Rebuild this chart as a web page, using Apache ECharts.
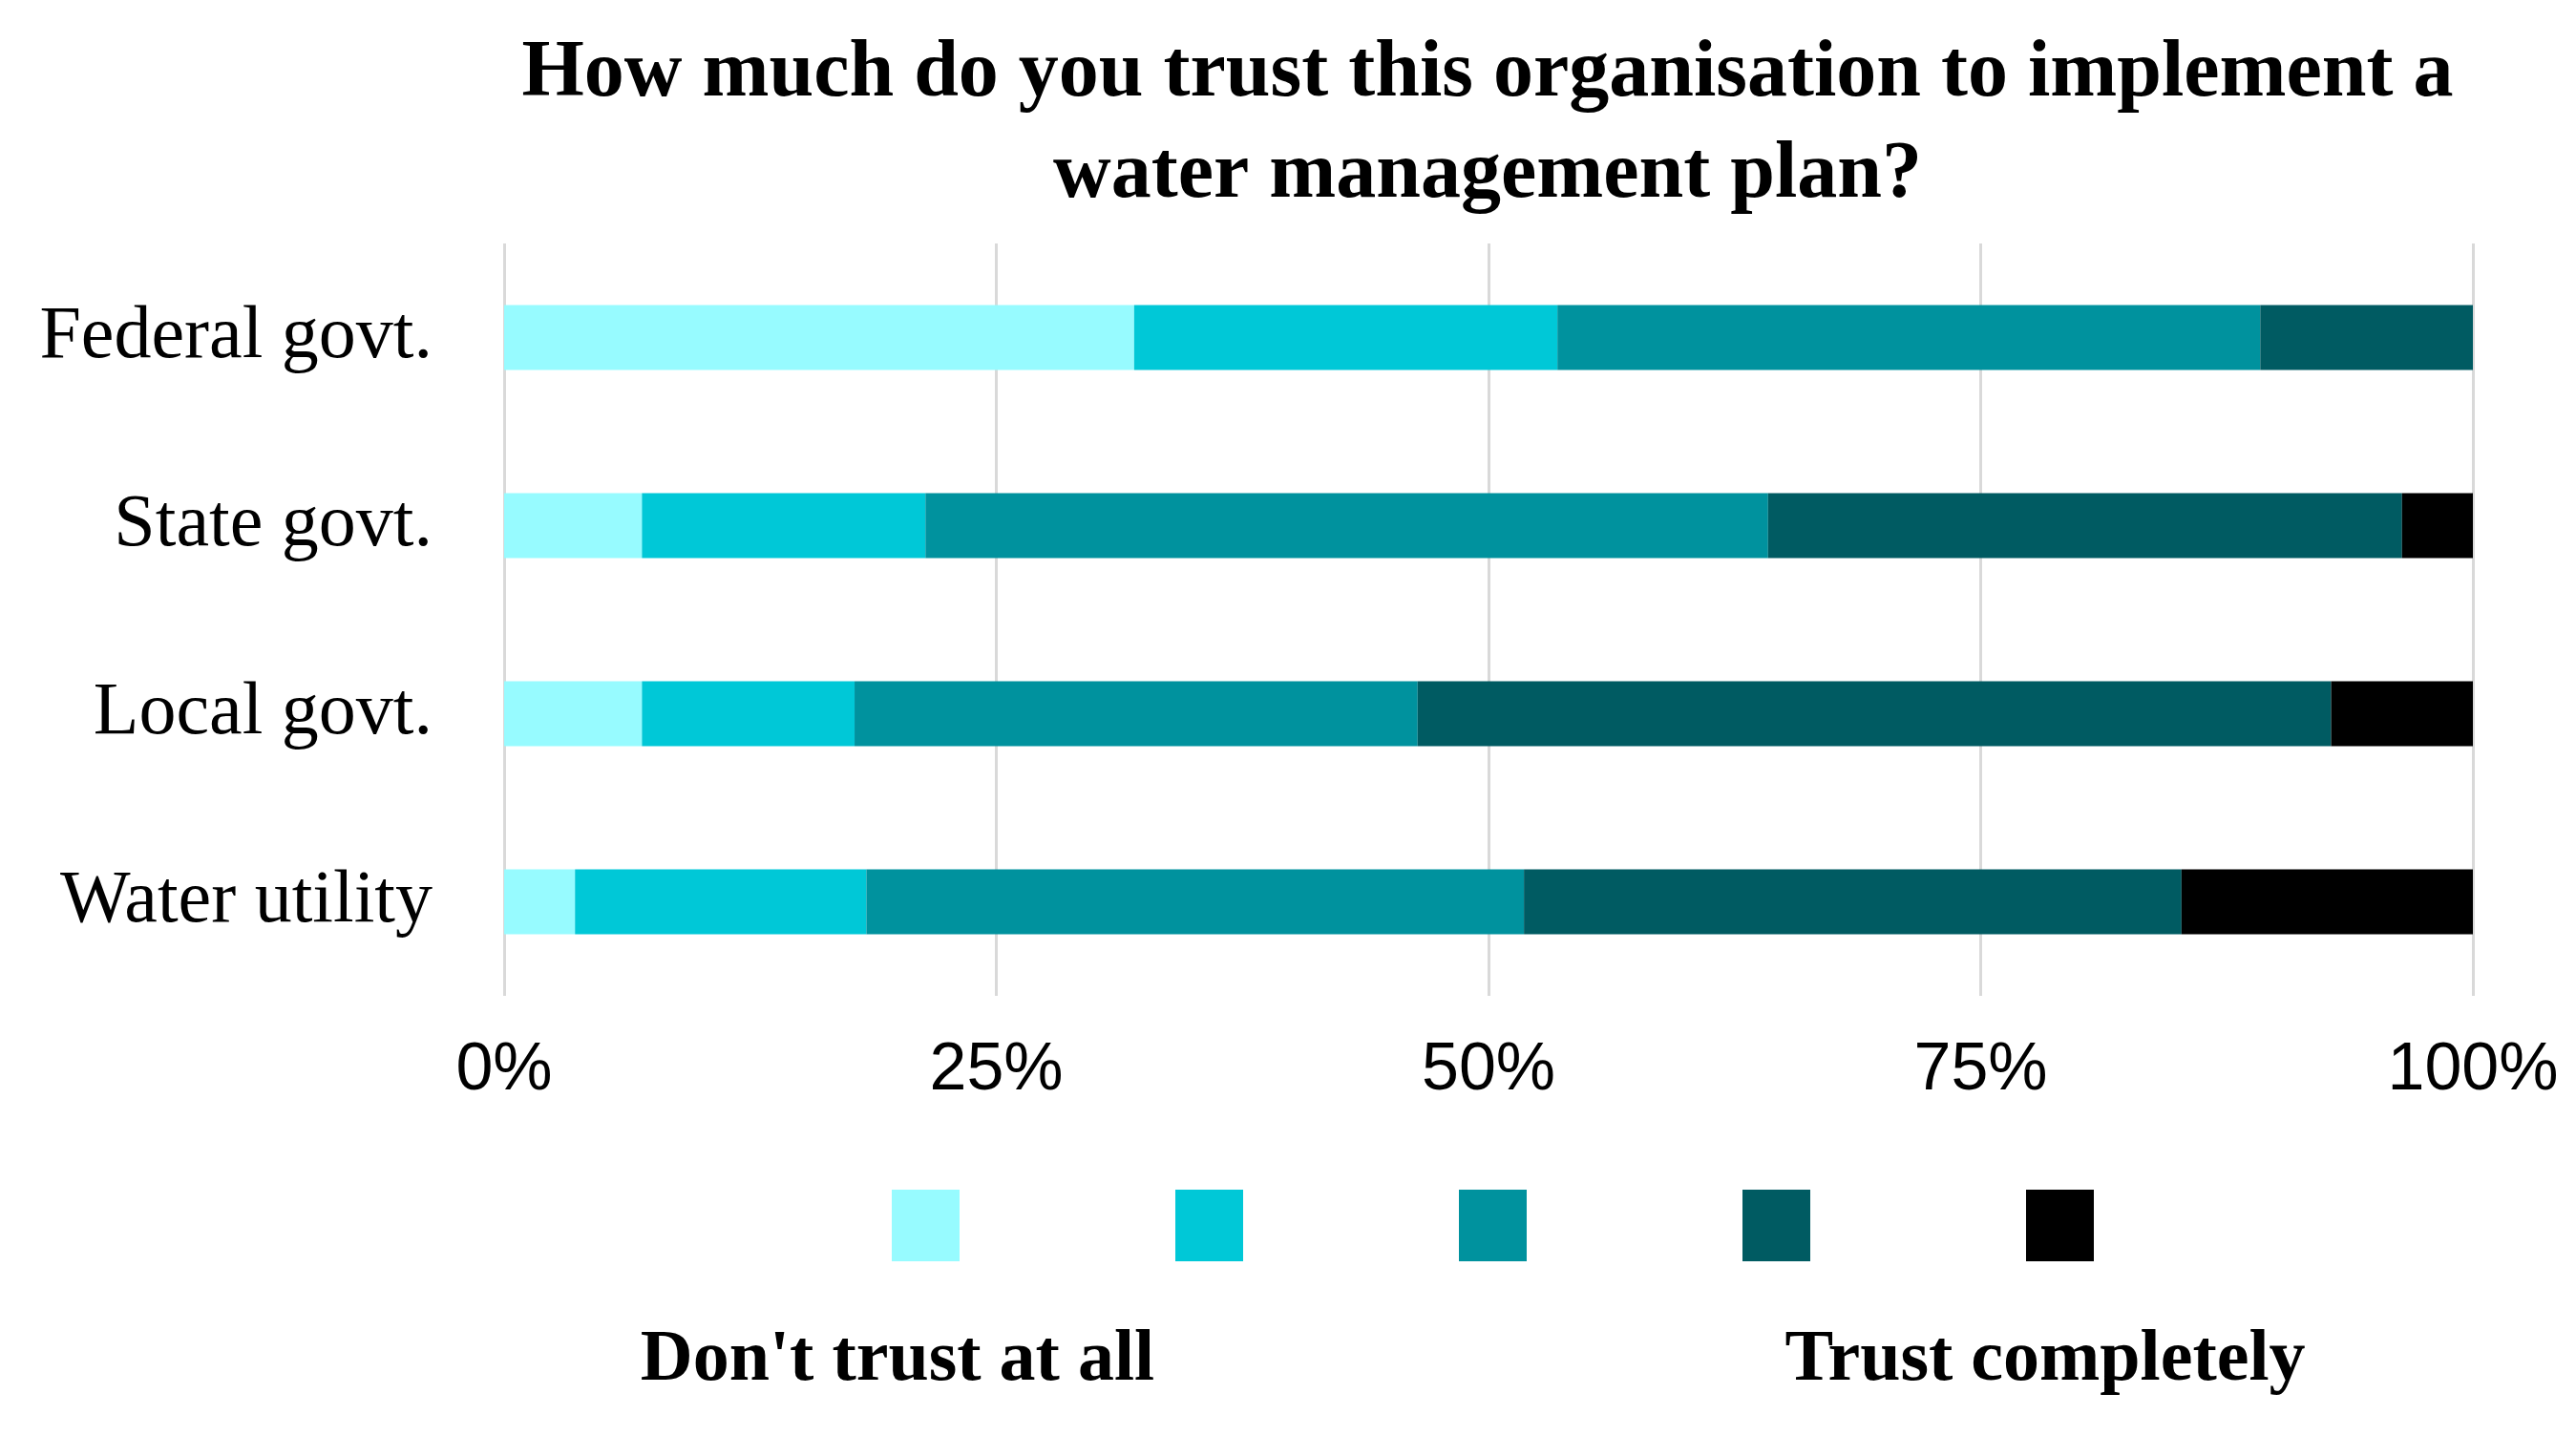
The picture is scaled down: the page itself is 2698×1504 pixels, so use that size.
<!DOCTYPE html>
<html>
<head>
<meta charset="utf-8">
<script src="https://cdn.jsdelivr.net/npm/echarts@6/dist/echarts.min.js"></script>
<style>
  html, body { margin: 0; padding: 0; background: #fff; }
  #main { width: 2698px; height: 1504px; }
</style>
</head>
<body>
<div id="main"></div>
<script>
// categories, top to bottom
const organisations = ['Federal govt.', 'State govt.', 'Local govt.', 'Water utility'];
// share of answers per trust level (%), least trust first
const level1 = [32.0, 7.0, 7.0, 3.6];
const level2 = [21.5, 14.4, 10.8, 14.8];
const level3 = [35.7, 42.8, 28.6, 33.4];
const level4 = [10.8, 32.2, 46.4, 33.4];
const level5 = [0.0, 3.6, 7.2, 14.8];
const levelNames = ["Don't trust at all", 'Little trust', 'Some trust', 'Much trust', 'Trust completely'];
const levelColors = ['#97FBFF', '#00C8D7', '#00929E', '#005B62', '#000000'];
const xTicks = [0, 25, 50, 75, 100];

const chart = echarts.init(document.getElementById('main'));
const levels = [level1, level2, level3, level4, level5];

chart.setOption({
  animation: false,
  color: levelColors,
  title: [
    {
      text: 'How much do you trust this organisation to implement a\nwater management plan?',
      left: 1553,
      top: 20,
      textAlign: 'center',
      textStyle: {
        fontFamily: 'Liberation Serif',
        fontWeight: 'bold',
        fontSize: 84,
        lineHeight: 106,
        color: '#000'
      }
    },
    {
      text: "Don't trust at all",
      left: 935,
      top: 1382,
      textAlign: 'center',
      textStyle: { fontFamily: 'Liberation Serif', fontWeight: 'bold', fontSize: 76, color: '#000' }
    },
    {
      text: 'Trust completely',
      left: 2137,
      top: 1382,
      textAlign: 'center',
      textStyle: { fontFamily: 'Liberation Serif', fontWeight: 'bold', fontSize: 76, color: '#000' }
    }
  ],
  legend: {
    data: levelNames,
    left: 929,
    top: 1241,
    itemWidth: 71,
    itemHeight: 75,
    itemGap: 226,
    formatter: () => '',
    icon: 'rect',
    selectedMode: false
  },
  grid: {
    left: 528,
    right: 108,
    top: 255,
    bottom: 461
  },
  xAxis: {
    type: 'value',
    min: 0,
    max: 100,
    interval: 25,
    axisLine: { show: false },
    axisTick: { show: false },
    splitLine: { lineStyle: { color: '#d9d9d9', width: 3 } },
    axisLabel: {
      formatter: v => (xTicks.includes(v) ? v + '%' : ''),
      fontFamily: 'Liberation Sans',
      fontSize: 70,
      color: '#000',
      margin: 44
    }
  },
  yAxis: {
    type: 'category',
    inverse: true,
    data: organisations,
    axisLine: { show: false },
    axisTick: { show: false },
    axisLabel: {
      fontFamily: 'Liberation Serif',
      fontSize: 78,
      color: '#000',
      margin: 75
    }
  },
  series: levels.map((vals, i) => ({
    name: levelNames[i],
    type: 'bar',
    stack: 'trust',
    barWidth: 68,
    data: vals
  }))
});
</script>
</body>
</html>
